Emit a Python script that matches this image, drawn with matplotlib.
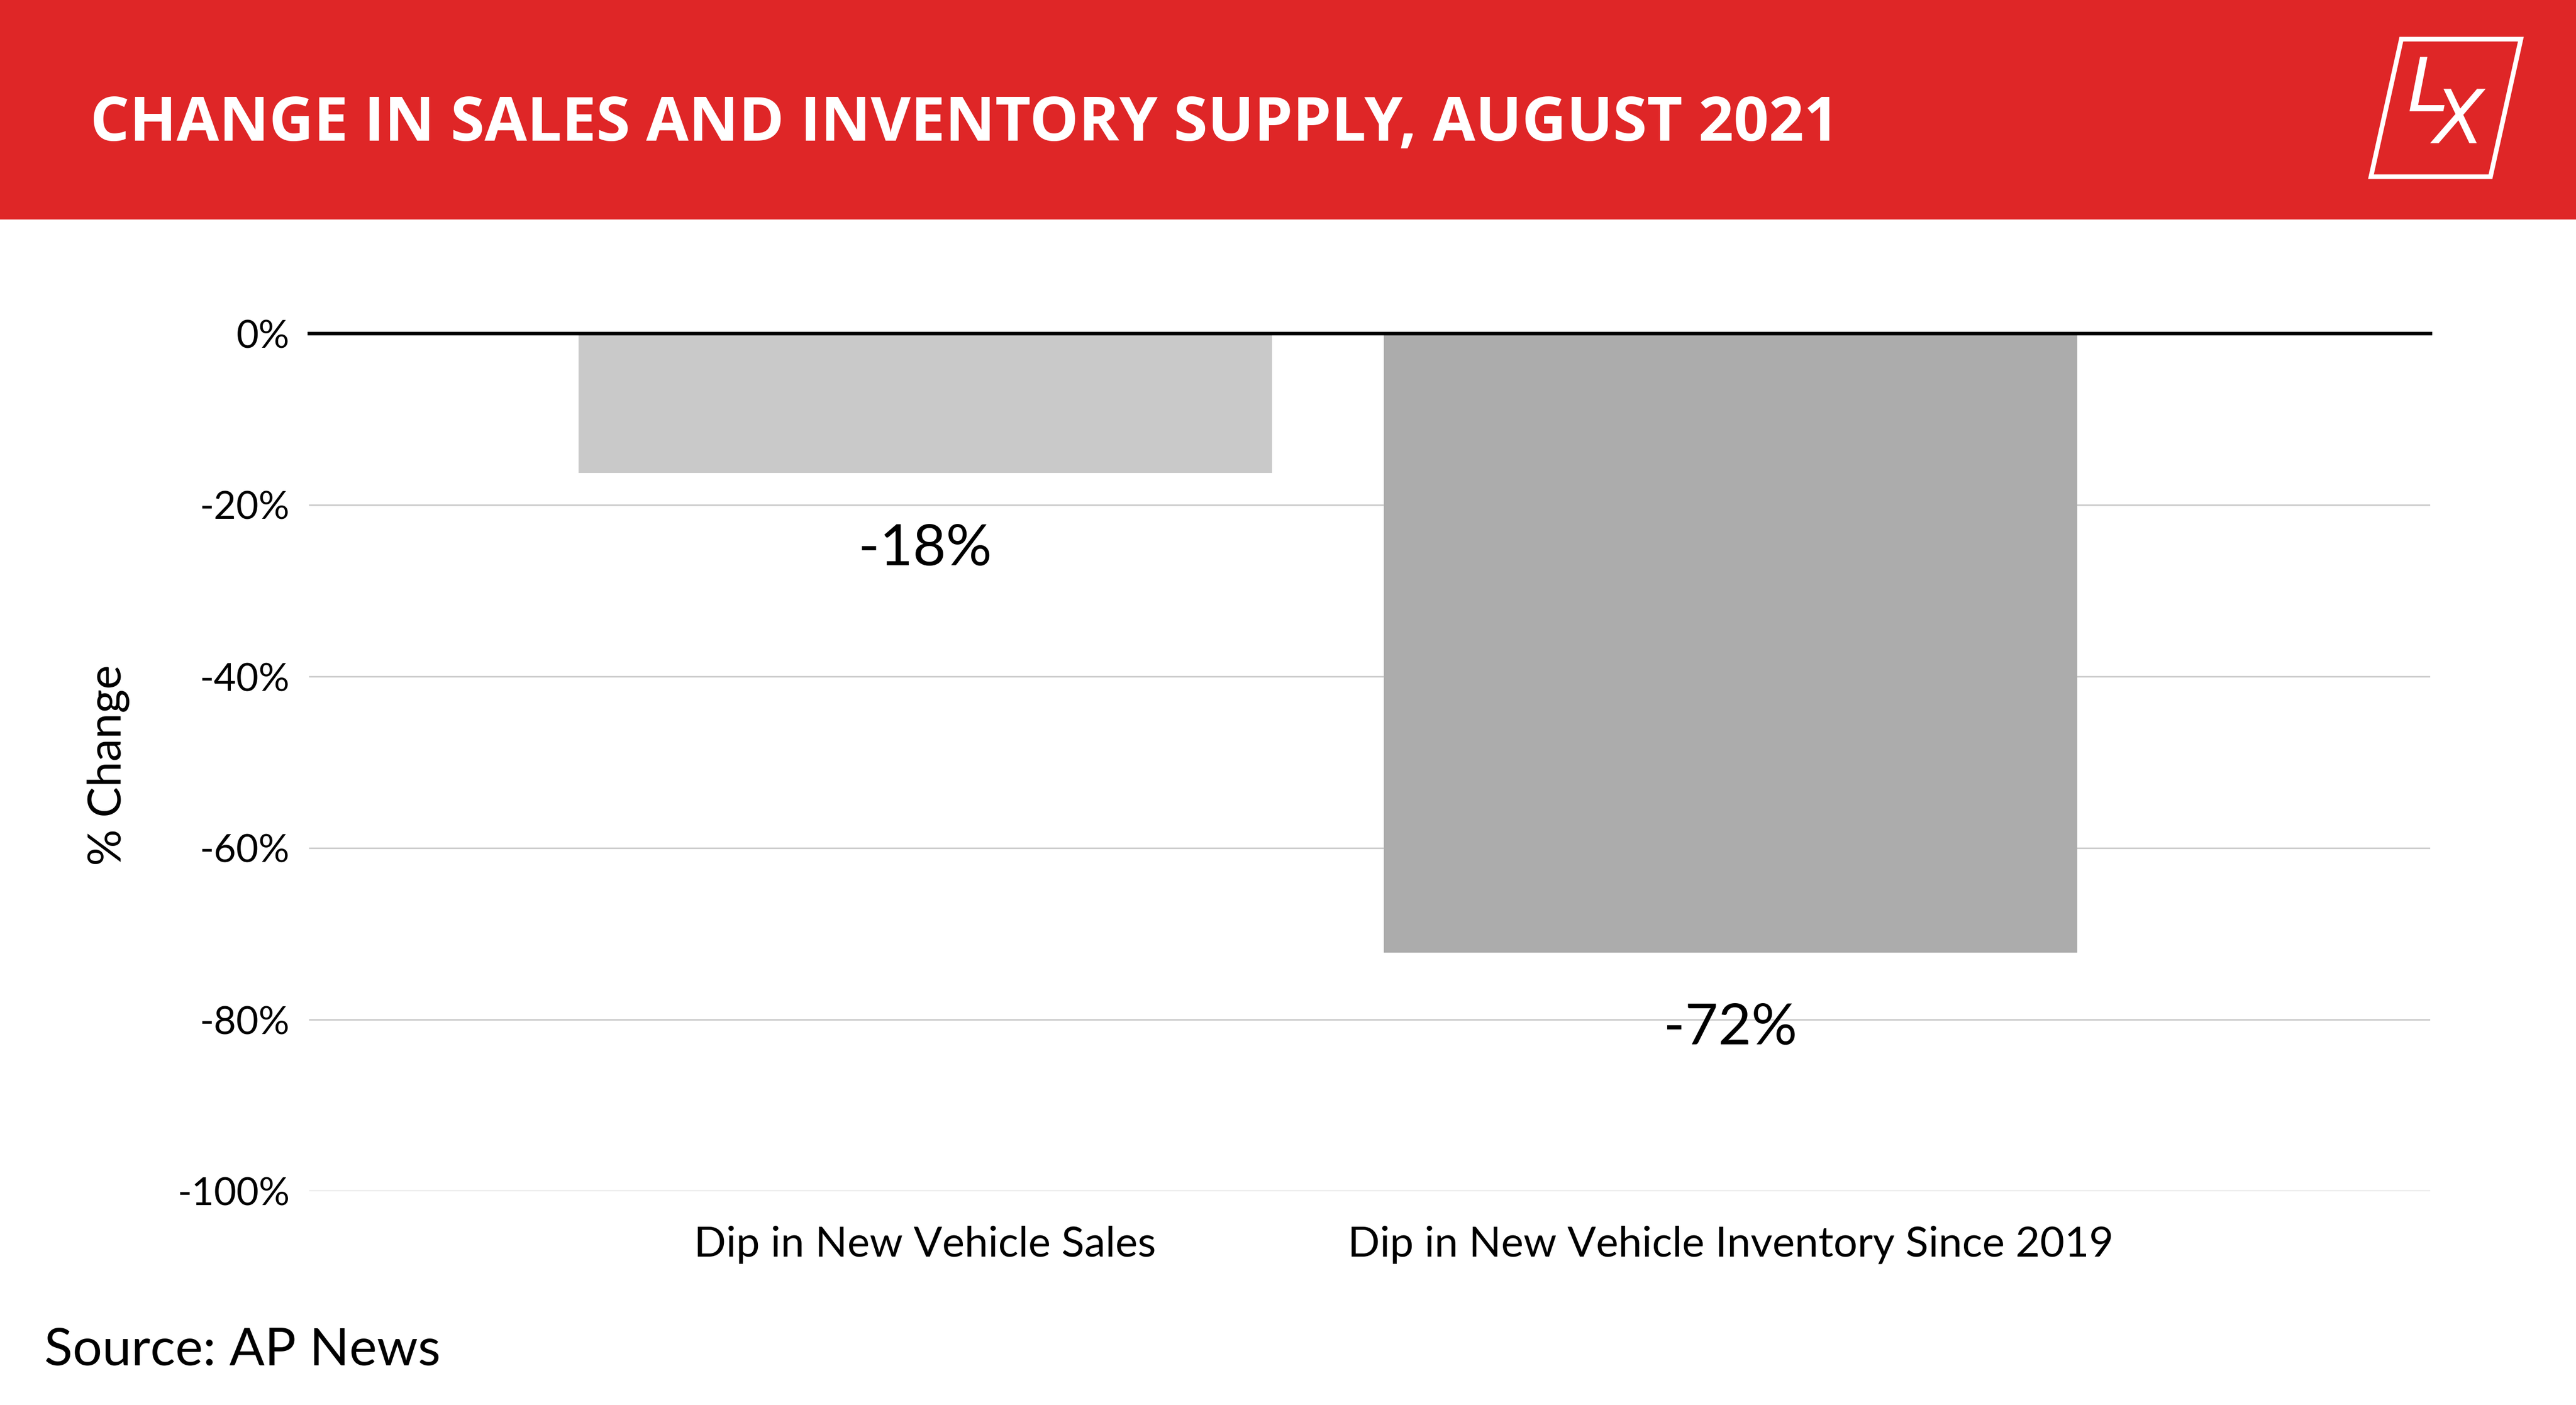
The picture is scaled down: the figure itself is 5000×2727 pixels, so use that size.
import numpy as np
import matplotlib
matplotlib.use("Agg")
import matplotlib.pyplot as plt
from matplotlib.patches import Polygon, Rectangle

# Datos
categorias = ["Dip in New Vehicle Sales", "Dip in New Vehicle Inventory Since 2019"]
valores = [-16.3, -72.2]
etiquetas = ["-18%", "-72%"]
colores = ["#c9c9c9", "#acacac"]
yticks = [0, -20, -40, -60, -80, -100]
titulo = "CHANGE IN SALES AND INVENTORY SUPPLY, AUGUST 2021"
fuente = "Source: AP News"

W, H = 5000, 2727
plt.rcParams['font.family'] = ['Lato', 'DejaVu Sans']

fig = plt.figure(figsize=(W / 100, H / 100), dpi=100)

# capa en pixeles para cabecera y logo
bg = fig.add_axes([0, 0, 1, 1])
bg.set_xlim(0, W)
bg.set_ylim(H, 0)
bg.axis('off')
bg.add_patch(Rectangle((0, 0), W, 426, color="#df2627", lw=0))
bg.text(175, 242, titulo, color="white", fontsize=86, fontweight="bold",
        family=['Open Sans', 'DejaVu Sans'], va="center", ha="left")

# logo LX
bg.add_patch(Polygon([(4661, 76), (4893, 76), (4834, 343), (4602, 343)],
                     closed=True, fill=False, ec="white", lw=6.5, joinstyle="miter"))
bg.text(4712, 176, "L", color="white", fontsize=104, style="italic",
        family=['DejaVu Sans'], ha="center", va="center")
bg.text(4772, 238, "X", color="white", fontsize=104, style="italic",
        family=['DejaVu Sans'], ha="center", va="center")

# grafico
ax = fig.add_axes([0.12, 1 - 2312 / H, 0.8234, (2312 - 647) / H])
x = np.arange(len(categorias))
ax.bar(x, valores, width=0.861, color=colores, zorder=2)
ax.set_xlim(-0.765, 1.869)
ax.set_ylim(-100, 0)
ax.set_yticks(yticks)
ax.set_yticklabels([f"{v}%" for v in yticks], fontsize=54)
ax.set_xticks(x)
ax.set_xticklabels(categorias, fontsize=59)
ax.tick_params(axis='y', length=0, pad=27)
ax.tick_params(axis='x', length=0, pad=48)
ax.grid(axis='y', color="#cccccc", lw=2.2, zorder=0)
ax.axhline(0, color="black", lw=5, zorder=3, clip_on=False)
for s in ax.spines.values():
    s.set_visible(False)

for xi, v, lab in zip(x, valores, etiquetas):
    ax.annotate(lab, (xi, v), xytext=(0, -106), textcoords="offset points",
                ha="center", va="center", fontsize=80)

fig.text(210 / W, 1 - 1485 / H, "% Change", rotation=90, fontsize=64,
         ha="center", va="center")
fig.text(86 / W, 1 - 2621 / H, fuente, fontsize=73, ha="left", va="center")

fig.savefig("out.png", dpi=100)
